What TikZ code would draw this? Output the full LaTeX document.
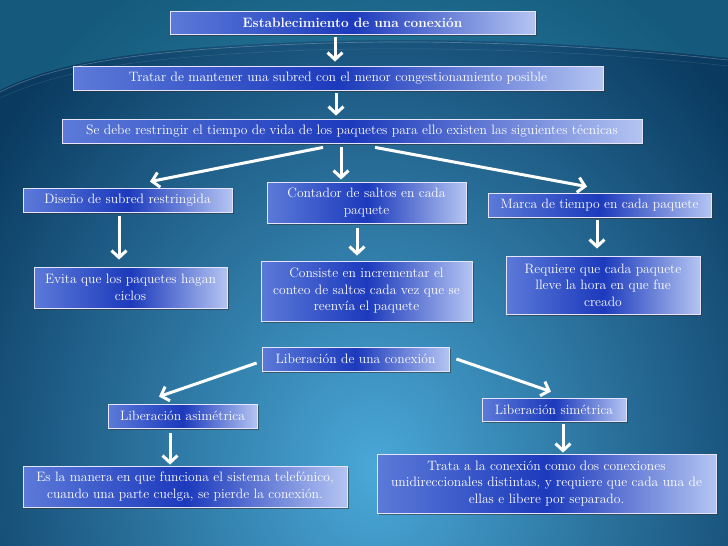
\documentclass[tikz,border=0pt]{standalone}
\usetikzlibrary{arrows.meta,shadows}
\definecolor{bgin}{HTML}{4AA8D8}
\definecolor{bgout}{HTML}{0A3A60}
\definecolor{bxl}{HTML}{5C7AD8}
\definecolor{bxm}{HTML}{1C3ABC}
\definecolor{bxr}{HTML}{B4C4F2}
\definecolor{swoosh}{HTML}{2FA6BE}
\tikzset{
  box/.style={draw=white!90!blue, line width=0.8pt, shading=axis,
    left color=bxl, right color=bxr, middle color=bxm,
    text=white, align=center, inner sep=0pt,
    font=\fontsize{13.6}{16.5}\selectfont,
    drop shadow={shadow xshift=2pt, shadow yshift=-2pt, opacity=0.55, fill=black!80}},
  arr/.style={draw=white, line width=3pt, -{Straight Barb[length=7pt,width=15pt]}}
}
\begin{document}
\begin{tikzpicture}[x=1pt,y=-1pt]
\useasboundingbox (0,0) rectangle (728,546);
\begin{scope}
  \clip (0,0) rectangle (728,546);
  \fill[bgout] (0,0) rectangle (728,546);
  \shade[inner color=bgin, outer color=bgout] (375,470) ellipse (470 and 560);
  \fill[swoosh, opacity=0.3] (0,0) -- (0,90) .. controls (60,60) and (150,48) .. (300,42) .. controls (450,36) and (600,44) .. (728,58) -- (728,0) -- cycle;
  \draw[white, opacity=0.25, line width=0.7pt] (0,92) .. controls (60,62) and (150,50) .. (300,44) .. controls (450,38) and (600,46) .. (728,60);
  \draw[white, opacity=0.12, line width=0.5pt] (0,98) .. controls (70,66) and (160,56) .. (310,50) .. controls (460,46) and (600,52) .. (728,66);
\end{scope}

\node[box, minimum width=365pt, minimum height=23pt, font=\fontsize{13.6}{16.5}\selectfont\bfseries] (b1) at (352.5,22.5) {Establecimiento de una conexión};
\node[box, minimum width=530pt, minimum height=24pt] (b2) at (338,78) {Tratar de mantener una subred con el menor congestionamiento posible};
\node[box, minimum width=580pt, minimum height=24pt] (b3) at (352,131) {Se debe restringir el tiempo de vida de los paquetes para ello existen las siguientes técnicas};
\node[box, minimum width=209pt, minimum height=24pt] (b4) at (127.5,200) {Diseño de subred restringida};
\node[box, minimum width=199pt, minimum height=41pt] (b5) at (366.5,202.5) {Contador de saltos en cada\\paquete};
\node[box, minimum width=223pt, minimum height=24pt] (b6) at (599.5,205) {Marca de tiempo en cada paquete};
\node[box, minimum width=193pt, minimum height=41pt] (b7) at (130.5,287.5) {Evita que los paquetes hagan\\ciclos};
\node[box, minimum width=211pt, minimum height=60pt] (b8) at (366.5,291) {Consiste en incrementar el\\conteo de saltos cada vez que se\\reenvía el paquete};
\node[box, minimum width=194pt, minimum height=58pt] (b9) at (603,285) {Requiere que cada paquete\\lleve la hora en que fue\\creado};
\node[box, minimum width=187pt, minimum height=24pt] (b10) at (355.5,359) {Liberación de una conexión};
\node[box, minimum width=149pt, minimum height=24pt] (b11) at (182.5,416) {Liberación asimétrica};
\node[box, minimum width=144pt, minimum height=23pt] (b12) at (554,409.5) {Liberación simétrica};
\node[box, minimum width=324pt, minimum height=41pt] (b13) at (185,486.5) {Es la manera en que funciona el sistema telefónico,\\cuando una parte cuelga, se pierde la conexión.};
\node[box, minimum width=339pt, minimum height=59pt] (b14) at (546.5,483.5) {Trata a la conexión como dos conexiones\\unidireccionales distintas, y requiere que cada una de\\ellas e libere por separado.};

\draw[arr] ([xshift=-17.5pt,yshift=-3pt]b1.south) -- ([xshift=-3pt,yshift=4pt]b2.north);
\draw[arr] ([xshift=-2pt,yshift=-3pt]b2.south) -- ([xshift=-16pt,yshift=3pt]b3.north);
\draw[arr] ([xshift=-29pt,yshift=-4pt]b3.south) -- ([xshift=22.5pt,yshift=6pt]b4.north);
\draw[arr] ([xshift=-11pt,yshift=-4pt]b3.south) -- ([xshift=-25.5pt,yshift=2pt]b5.north);
\draw[arr] ([xshift=23pt,yshift=-4pt]b3.south) -- ([xshift=-12.5pt,yshift=6pt]b6.north);
\draw[arr] ([xshift=-8.5pt,yshift=-4pt]b4.south) -- ([xshift=-11.5pt,yshift=7pt]b7.north);
\draw[arr] ([xshift=-9.5pt,yshift=-5pt]b5.south) -- ([xshift=-9.5pt,yshift=5pt]b8.north);
\draw[arr] ([xshift=-2.5pt,yshift=-3pt]b6.south) -- ([xshift=-6pt,yshift=7pt]b9.north);
\draw[arr] ([xshift=-5pt,yshift=-4pt]b10.west) -- ([xshift=-23.5pt,yshift=7pt]b11.north);
\draw[arr] ([xshift=7pt]b10.east) -- ([xshift=-3pt,yshift=6pt]b12.north);
\draw[arr] ([xshift=-12.5pt,yshift=-5pt]b11.south) -- ([xshift=-15pt,yshift=1pt]b13.north);
\draw[arr] ([xshift=9pt,yshift=-3pt]b12.south) -- ([xshift=16.5pt,yshift=1pt]b14.north);
\end{tikzpicture}
\end{document}
